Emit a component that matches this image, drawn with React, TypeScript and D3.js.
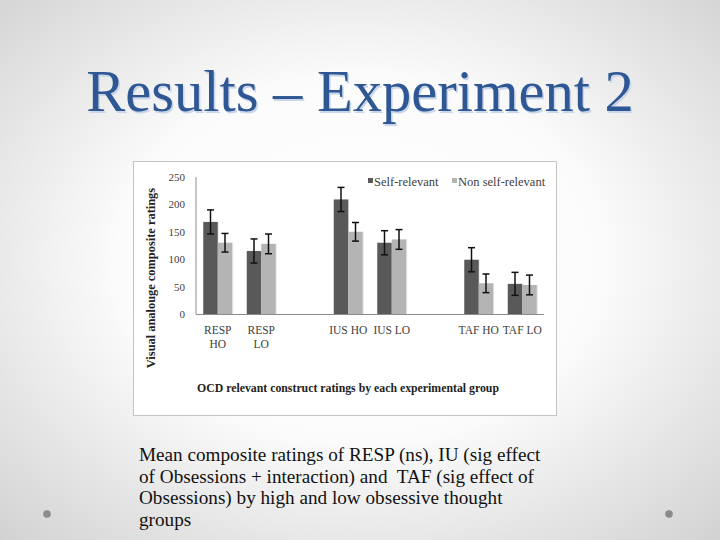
import React, { useEffect, useRef } from "react";
import * as d3 from "d3";

const categories = ["RESP\nHO", "RESP\nLO", "", "IUS HO", "IUS LO", "", "TAF HO", "TAF LO"];
const seriesNames = ["Self-relevant", "Non self-relevant"];
const selfValues = [168, 115, null, 209, 130, null, 99, 55];
const nonSelfValues = [130, 128, null, 150, 136, null, 56, 53];
const selfErrors = [22, 22, null, 22, 22, null, 22, 21];
const nonSelfErrors = [17, 18, null, 17, 18, null, 17, 18];
const yTicks = [0, 50, 100, 150, 200, 250];
const captionLines = [
  "Mean composite ratings of RESP (ns), IU (sig effect",
  "of Obsessions + interaction) and  TAF (sig effect of",
  "Obsessions) by high and low obsessive thought",
  "groups",
];
const colors = ["#595959", "#b4b4b4"];

export default function App() {
  const ref = useRef<SVGSVGElement>(null);
  useEffect(() => {
    const svg = d3.select(ref.current);
    svg.selectAll("*").remove();
    const W = 720, H = 540;
    const font = "'Liberation Serif', 'Times New Roman', Times, serif";
    const defs = svg.append("defs");
    const rg = defs.append("radialGradient").attr("id", "bg").attr("cx", "50%").attr("cy", "48%").attr("r", "75%");
    rg.append("stop").attr("offset", "0%").attr("stop-color", "#ffffff");
    rg.append("stop").attr("offset", "45%").attr("stop-color", "#fbfbfb");
    rg.append("stop").attr("offset", "100%").attr("stop-color", "#cfcfcf");
    svg.append("rect").attr("width", W).attr("height", H).attr("fill", "url(#bg)");

    // title
    svg.append("text").attr("x", 360).attr("y", 111).attr("text-anchor", "middle")
      .attr("font-family", font).attr("font-size", 58.5).attr("fill", "#c9d6ea")
      .attr("transform", "translate(1.5,1.5)").text("Results – Experiment 2");
    svg.append("text").attr("x", 360).attr("y", 111).attr("text-anchor", "middle")
      .attr("font-family", font).attr("font-size", 58.5).attr("fill", "#2f5793")
      .text("Results – Experiment 2");

    // chart box
    svg.append("rect").attr("x", 133.5).attr("y", 161.5).attr("width", 423).attr("height", 254)
      .attr("fill", "#ffffff").attr("stroke", "#c4c4c4").attr("stroke-width", 1);

    const x0 = 196, x1 = 544, yTop = 177, yBase = 314;
    const x = d3.scaleBand<number>().domain(d3.range(categories.length)).range([x0, x1]).paddingInner(0).paddingOuter(0);
    const inner = d3.scaleBand<number>().domain([0, 1]).range([x.bandwidth() / 6, x.bandwidth() * 5 / 6]);
    const y = d3.scaleLinear().domain([0, 250]).range([yBase, yTop]);

    // axes
    svg.append("line").attr("x1", x0).attr("x2", x0).attr("y1", yTop).attr("y2", yBase).attr("stroke", "#8c8c8c");
    svg.append("line").attr("x1", x0).attr("x2", x1).attr("y1", yBase + 0.5).attr("y2", yBase + 0.5).attr("stroke", "#8c8c8c");
    yTicks.forEach((t) => {
      svg.append("text").attr("x", 185).attr("y", y(t) + 4).attr("text-anchor", "end")
        .attr("font-family", font).attr("font-size", 11).attr("fill", "#404040").text(String(t));
    });

    const allVals = [selfValues, nonSelfValues];
    const allErr = [selfErrors, nonSelfErrors];
    allVals.forEach((vals, s) => {
      vals.forEach((v, i) => {
        if (v == null) return;
        const bx = (x(i) as number) + (inner(s) as number);
        const bw = inner.bandwidth();
        svg.append("rect").attr("x", bx + 1).attr("y", y(v)).attr("width", bw).attr("height", yBase - y(v))
          .attr("fill", "#ececec");
        svg.append("rect").attr("x", bx).attr("y", y(v)).attr("width", bw).attr("height", yBase - y(v))
          .attr("fill", colors[s]);
      });
    });
    allVals.forEach((vals, s) => {
      vals.forEach((v, i) => {
        if (v == null) return;
        const e = allErr[s][i] as number;
        const cx = (x(i) as number) + (inner(s) as number) + inner.bandwidth() / 2;
        const g = svg.append("g").attr("stroke", "#111").attr("stroke-width", 1.5);
        g.append("line").attr("x1", cx).attr("x2", cx).attr("y1", y(v + e)).attr("y2", y(v - e));
        g.append("line").attr("x1", cx - 3.5).attr("x2", cx + 3.5).attr("y1", y(v + e)).attr("y2", y(v + e));
        g.append("line").attr("x1", cx - 3.5).attr("x2", cx + 3.5).attr("y1", y(v - e)).attr("y2", y(v - e));
      });
    });

    // category labels
    categories.forEach((c, i) => {
      if (!c) return;
      const cx = (x(i) as number) + x.bandwidth() / 2;
      const lines = c.split("\n");
      lines.forEach((ln, k) => {
        svg.append("text").attr("x", cx).attr("y", 334 + k * 14).attr("text-anchor", "middle")
          .attr("font-family", font).attr("font-size", 11.5).attr("fill", "#404040").text(ln);
      });
    });

    // axis titles
    svg.append("text").attr("x", 348).attr("y", 392).attr("text-anchor", "middle")
      .attr("font-family", font).attr("font-size", 11.8).attr("font-weight", "bold").attr("fill", "#222")
      .text("OCD relevant construct ratings by each experimental group");
    svg.append("text").attr("transform", "translate(155,278) rotate(-90)").attr("text-anchor", "middle")
      .attr("font-family", font).attr("font-size", 12.4).attr("font-weight", "bold").attr("fill", "#222")
      .text("Visual analouge composite ratings");

    // legend
    const legX = [368, 452];
    seriesNames.forEach((n, s) => {
      svg.append("rect").attr("x", legX[s]).attr("y", 178).attr("width", 5).attr("height", 5).attr("fill", colors[s]);
      svg.append("text").attr("x", legX[s] + 6).attr("y", 186).attr("font-family", font).attr("font-size", 12.5)
        .attr("fill", "#404040").text(n);
    });

    // caption
    captionLines.forEach((ln, k) => {
      svg.append("text").attr("x", 139).attr("y", 461 + k * 21.5).attr("font-family", font)
        .attr("font-size", 19.2).attr("fill", "#111").attr("xml:space", "preserve").style("white-space", "pre").text(ln);
    });
    // bullets
    [47, 669].forEach((bx) => {
      svg.append("circle").attr("cx", bx).attr("cy", 514).attr("r", 3.8).attr("fill", "#8a8a8a");
    });
  }, []);
  return <svg ref={ref} width={720} height={540} style={{ position: "absolute", left: 0, top: 0 }} />;
}
